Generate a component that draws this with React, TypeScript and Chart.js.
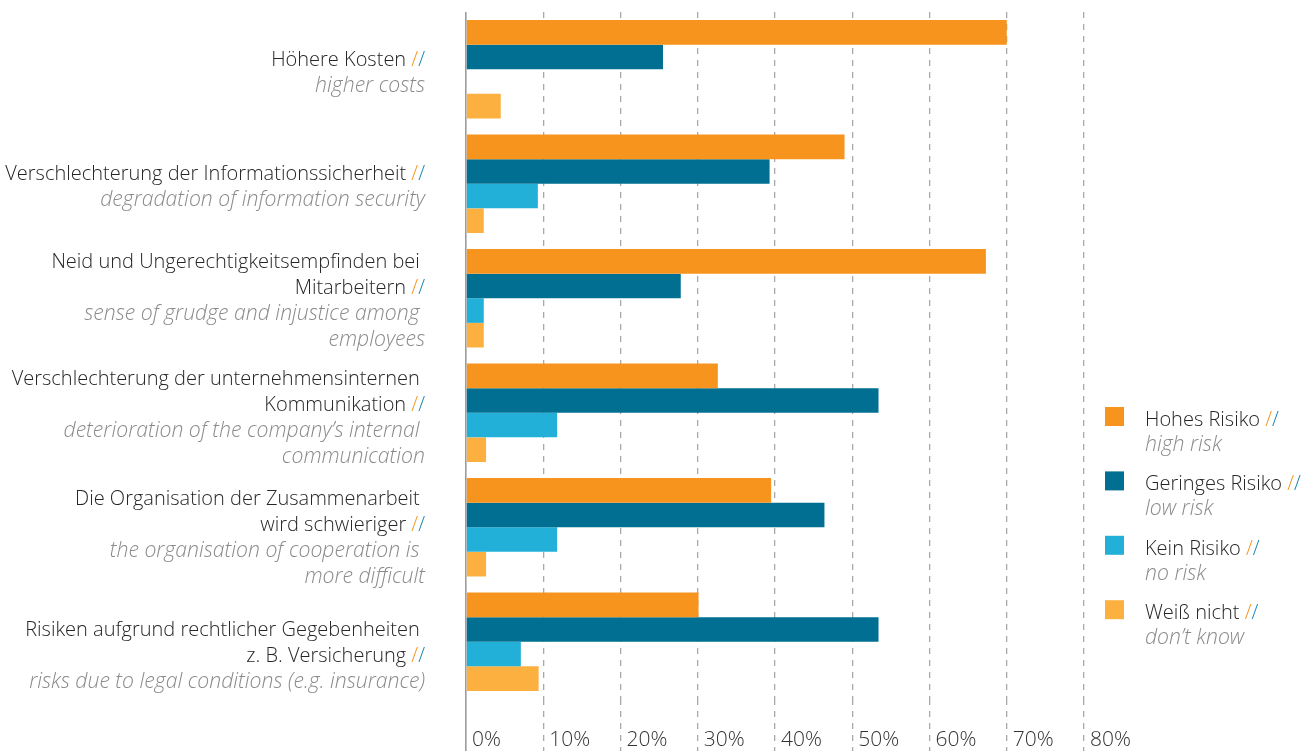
import React, { useEffect, useRef } from "react";
import { Chart, registerables } from "chart.js";

Chart.register(...registerables);

// ---------- data ----------
const categoriesDe: string[][] = [
  ["Höhere Kosten"],
  ["Verschlechterung der Informationssicherheit"],
  ["Neid und Ungerechtigkeitsempfinden bei ", "Mitarbeitern"],
  ["Verschlechterung der unternehmensinternen ", "Kommunikation"],
  ["Die Organisation der Zusammenarbeit ", "wird schwieriger"],
  ["Risiken aufgrund rechtlicher Gegebenheiten ", "z. B. Versicherung"],
];
const categoriesEn: string[][] = [
  ["higher costs"],
  ["degradation of information security"],
  ["sense of grudge and injustice among ", "employees"],
  ["deterioration of the company’s internal ", "communication"],
  ["the organisation of cooperation is ", "more difficult"],
  ["risks due to legal conditions (e.g. insurance)"],
];
const seriesNamesDe = ["Hohes Risiko", "Geringes Risiko", "Kein Risiko", "Weiß nicht"];
const seriesNamesEn = ["high risk", "low risk", "no risk", "don’t know"];

const hohesRisiko = [70, 49, 67.3, 32.6, 39.5, 30.1];
const geringesRisiko = [25.5, 39.3, 27.8, 53.4, 46.4, 53.4];
const keinRisiko = [0, 9.3, 2.3, 11.8, 11.8, 7.1];
const weissNicht = [4.5, 2.3, 2.3, 2.6, 2.6, 9.4];

const xTickValues = [0, 10, 20, 30, 40, 50, 60, 70, 80];

// ---------- styles ----------
const SERIES_COLORS = ["#F7941E", "#006F91", "#22B0D8", "#FBB040"];
const SLASH_A = "#F7941E";
const SLASH_B = "#1B86B0";
const FONT = "'Open Sans', 'Noto Sans', sans-serif";
const TEXT_DARK = "#262626";
const TEXT_GREY = "#8a8a8a";
const LABEL_SIZE = 20;
const ITALIC_SIZE = 21.2;
const TICK_SIZE = 21;
const LINE_H = 26;
const LABEL_SHIFT = [2.5, 2, 2, 4.5, 9.5, 13.3];

function drawSlashed(ctx: CanvasRenderingContext2D, text: string, xRight: number, baseline: number) {
  const main = text + " ";
  const wMain = ctx.measureText(main).width;
  const wS = ctx.measureText("/").width;
  const total = wMain + wS * 2;
  const x0 = xRight - total;
  ctx.textAlign = "left";
  ctx.fillStyle = TEXT_DARK;
  ctx.fillText(main, x0, baseline);
  ctx.fillStyle = SLASH_A;
  ctx.fillText("/", x0 + wMain, baseline);
  ctx.fillStyle = SLASH_B;
  ctx.fillText("/", x0 + wMain + wS, baseline);
}

const labelPlugin = {
  id: "bilingualLabels",
  afterDraw(chart: any) {
    const ctx: CanvasRenderingContext2D = chart.ctx;
    const yScale = chart.scales.y;
    const right = chart.chartArea.left - 41;
    ctx.save();
    ctx.textBaseline = "alphabetic";
    categoriesDe.forEach((de, i) => {
      const en = categoriesEn[i];
      const n = de.length + en.length;
      const cy = yScale.getPixelForValue(i) + LABEL_SHIFT[i];
      let k = 0;
      de.forEach((t, j) => {
        const by = cy + (k - (n - 1) / 2) * LINE_H + 7;
        ctx.font = `300 ${LABEL_SIZE}px ${FONT}`;
        if (j === de.length - 1) {
          drawSlashed(ctx, t, right, by);
        } else {
          ctx.textAlign = "right";
          ctx.fillStyle = TEXT_DARK;
          ctx.fillText(t, right, by);
        }
        k++;
      });
      en.forEach((t) => {
        const by = cy + (k - (n - 1) / 2) * LINE_H + 7;
        ctx.font = `italic 300 ${ITALIC_SIZE}px ${FONT}`;
        ctx.textAlign = "right";
        ctx.fillStyle = TEXT_GREY;
        ctx.fillText(t, right, by);
        k++;
      });
    });

    // legend
    const lx = chart.chartArea.right + 21;
    const ly0 = 407;
    const pitch = 64.4;
    seriesNamesDe.forEach((name, i) => {
      const top = ly0 + i * pitch;
      ctx.fillStyle = SERIES_COLORS[i];
      ctx.fillRect(lx, top, 19, 19);
      ctx.font = `300 ${LABEL_SIZE}px ${FONT}`;
      const tx = lx + 40;
      const w = ctx.measureText(name + " ").width;
      const ws = ctx.measureText("/").width;
      drawSlashed(ctx, name, tx + w + 2 * ws, top + 19);
      ctx.font = `italic 300 ${ITALIC_SIZE}px ${FONT}`;
      ctx.textAlign = "left";
      ctx.fillStyle = TEXT_GREY;
      ctx.fillText(seriesNamesEn[i], tx, top + 44);
    });
    ctx.restore();
  },
};

export default function App() {
  const canvasRef = useRef<HTMLCanvasElement | null>(null);

  useEffect(() => {
    document.body.style.margin = "0";
    const canvas = canvasRef.current;
    if (!canvas) return;
    const dash = (c: any) => (c.index === 0 ? [] : [6, 6]);
    const chart = new Chart(canvas, {
      type: "bar",
      data: {
        labels: categoriesDe.map((l) => l.join("")),
        datasets: [hohesRisiko, geringesRisiko, keinRisiko, weissNicht].map((d, i) => ({
          label: seriesNamesDe[i],
          data: d,
          backgroundColor: SERIES_COLORS[i],
          borderWidth: 0,
          categoryPercentage: 0.86,
          barPercentage: 1.0,
        })),
      },
      options: {
        indexAxis: "y",
        responsive: false,
        animation: false,
        devicePixelRatio: 1,
        layout: { padding: { top: 12, right: 226, left: 0, bottom: 0 } },
        plugins: { legend: { display: false }, tooltip: { enabled: false } },
        scales: {
          y: {
            type: "category",
            ticks: { display: false },
            grid: { display: false, drawTicks: false },
            border: { display: false },
            afterFit: (s: any) => {
              s.width = 466;
            },
          },
          x: {
            type: "linear",
            min: 0,
            max: 80,
            afterBuildTicks: (s: any) => {
              s.ticks = xTickValues.map((v) => ({ value: v }));
            },
            ticks: {
              callback: (v: any) => v + "%",
              font: { family: FONT, size: TICK_SIZE, weight: "300" },
              color: "#333333",
              align: "start",
              labelOffset: 6,
              padding: -24,
              autoSkip: false,
              maxRotation: 0,
              minRotation: 0,
            },
            grid: {
              color: (c: any) => (c.index === 0 ? "#9c9c9c" : "#a9a9a9"),
              lineWidth: (c: any) => (c.index === 0 ? 1.6 : 1.3),
              tickLength: 52,
              tickBorderDash: dash,
              drawTicks: true,
            },
            border: { display: false, dash: dash },
            afterFit: (s: any) => {
              s.height = 52;
              s.paddingLeft = 0;
              s.paddingRight = 0;
            },
          },
        },
      },
      plugins: [labelPlugin],
    } as any);
    return () => chart.destroy();
  }, []);

  return (
    <div style={{ width: 1310, height: 751 }}>
      <canvas ref={canvasRef} width={1310} height={751} style={{ display: "block" }} />
    </div>
  );
}
